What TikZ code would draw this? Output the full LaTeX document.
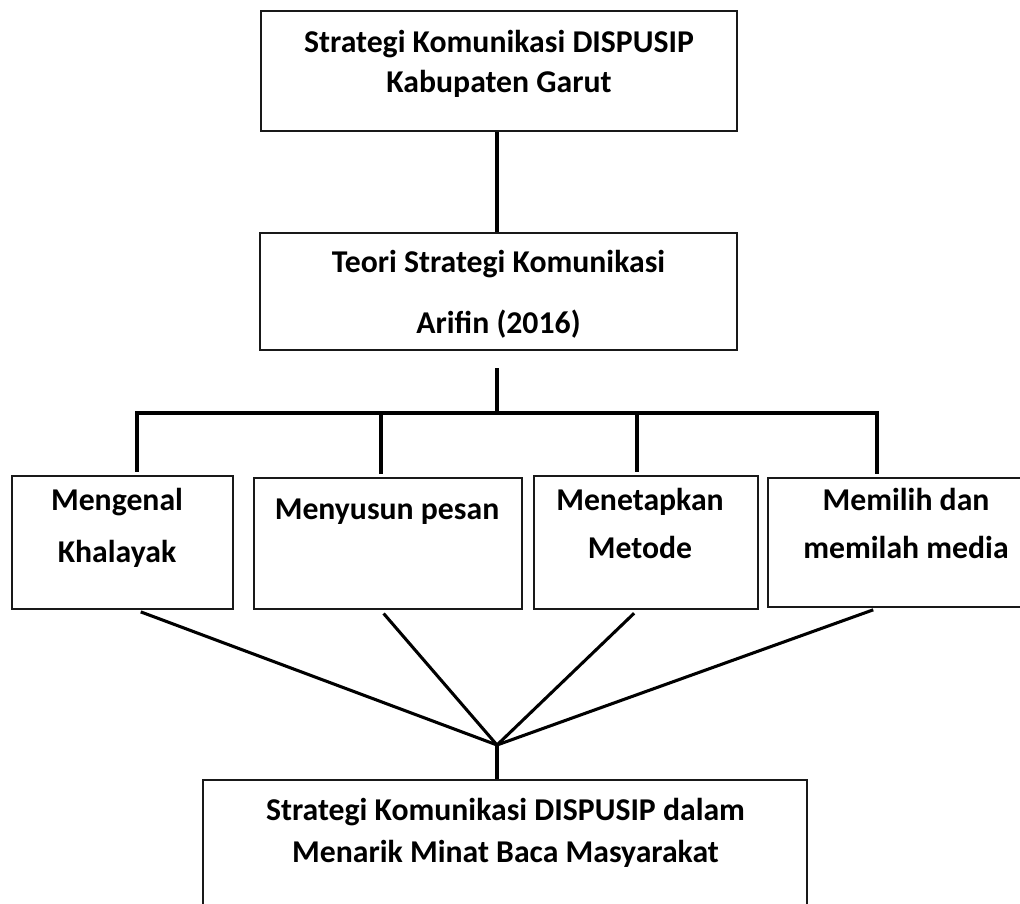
\documentclass[tikz,border=0pt]{standalone}
\usepackage{fontspec}
\setmainfont{Carlito}
\tikzset{%
  box/.style = {rectangle,draw=black!90,line width=2.2pt,inner sep=0pt},
  lbl/.style = {align=center,inner sep=0pt,
        font=\fontsize{23.8}{29}\selectfont\bfseries},
  link/.style = {line width=3.4pt},
  fan/.style = {line width=2.3pt}
}

\begin{document}
\begin{tikzpicture}[x=0.75pt,y=-0.75pt]
                \useasboundingbox (0,0) rectangle (1020,903);
                % boxes
                \node[box, minimum width=476*0.75pt, minimum height=120*0.75pt] (strat) at (499,71) {};
                \node[box, minimum width=477*0.75pt, minimum height=117*0.75pt] (teori) at (498.5,291.5) {};
                \node[box, minimum width=221*0.75pt, minimum height=133*0.75pt] (khalayak) at (122.5,542.5) {};
                \node[box, minimum width=268*0.75pt, minimum height=131*0.75pt] (pesan) at (388,543.5) {};
                \node[box, minimum width=224*0.75pt, minimum height=133*0.75pt] (metode) at (646,542.5) {};
                \node[box, minimum width=276*0.75pt, minimum height=129*0.75pt] (media) at (906,542.5) {};
                \node[box, minimum width=604*0.75pt, minimum height=160*0.75pt] (minat) at (505,860) {};

                % texts
                \node[lbl] (strat-t) at (499,64) {Strategi Komunikasi DISPUSIP\\[1pt]Kabupaten Garut};
                \node[lbl] (teori-t) at (498.5,294) {Teori Strategi Komunikasi\\[16.75pt]Arifin (2016)};
                \node[lbl] (khalayak-t) at (117,528) {Mengenal\\[10pt]Khalayak};
                \node[lbl] (pesan-t) at (387,512) {Menyusun pesan};
                \node[lbl] (metode-t) at (640,523) {Menetapkan\\[7pt]Metode};
                \node[lbl] (media-t) at (906,523) {Memilih dan\\[7pt]memilah media};
                \node[lbl] (minat-t) at (505.5,833) {Strategi Komunikasi DISPUSIP dalam\\[2.5pt]Menarik Minat Baca Masyarakat};

                % branch points
                \coordinate (split) at (497,413);
                \coordinate (join) at (497,745);
                \coordinate (d1) at (137,413);
                \coordinate (d2) at (381,413);
                \coordinate (d3) at (637,413);
                \coordinate (d4) at (877,413);

                \draw[link] (split |- strat.south) -- (split |- teori.north);
                \draw[link, shorten <=12.75pt] (split |- teori.south) -- (split);
                \draw[link, shorten <=2pt, shorten >=2pt] (d1 |- khalayak.north) -- (d1) -- (d4) -- (d4 |- media.north);
                \draw[link, shorten >=2pt] (d2) -- (d2 |- pesan.north);
                \draw[link, shorten >=2pt] (d3) -- (d3 |- metode.north);
                \foreach \d/\b in {d1/khalayak, d2/pesan, d3/metode, d4/media}
                  \draw[fan, shorten <=3pt] (\d |- \b.south) -- (join);
                \draw[link] (join) -- (join |- minat.north);
\end{tikzpicture}
\end{document}
